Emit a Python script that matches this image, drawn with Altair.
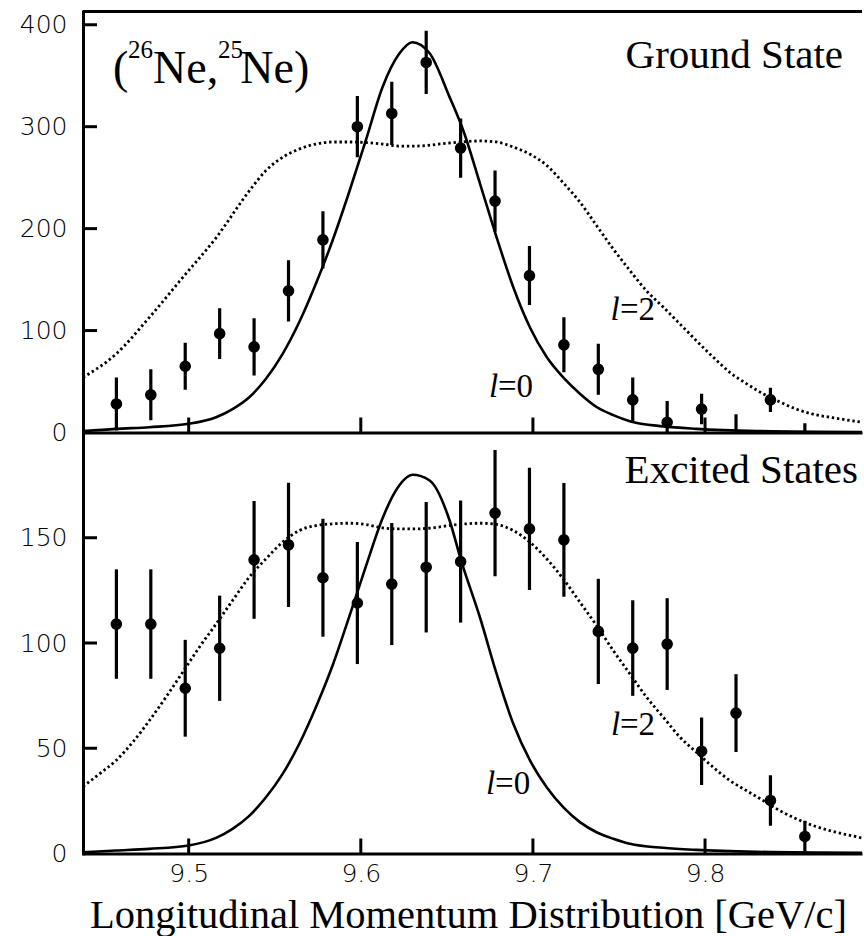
import altair as alt
import pandas as pd

# ---------------- data ----------------
# momentum bins (GeV/c) of the measured points (same in both panels)
x_pts = [9.458, 9.478, 9.498, 9.518, 9.538, 9.558, 9.578, 9.598, 9.618, 9.638,
         9.658, 9.678, 9.698, 9.718, 9.738, 9.758, 9.778, 9.798, 9.818, 9.838, 9.858]

# Ground state counts and errors (two bins sit below zero, only their bars show)
top_vals = [28, 37, 65, 97, 84, 139, 189, 300, 313, 363,
            279, 227, 154, 86, 62, 32, 10, 23, -6, 32, -6]
top_errs = [26, 25, 23, 25, 28, 30, 28, 30, 31, 31,
            29, 30, 29, 27, 25, 22, 21, 15, 24, 12, 15]

# Excited states counts and errors
bot_vals = [109, 109, 78.5, 97.5, 139.5, 146.6, 131, 119, 128, 136,
            138.7, 161.7, 154.2, 149, 105.5, 97.6, 99.5, 48.6, 66.7, 25.2, 8.1]
bot_errs = [26, 26, 23, 25, 28, 29.5, 28, 29, 29, 31,
            29, 30, 29, 27, 25, 22.7, 21.8, 16, 18.5, 12, 7.5]

# theory curves, ground state
top_l0_x = [9.4386, 9.4578, 9.4772, 9.5, 9.5159, 9.5255, 9.5352, 9.5449, 9.5546, 9.5642,
            9.5739, 9.5836, 9.5932, 9.6029, 9.6126, 9.6223, 9.630, 9.640, 9.6516, 9.6596,
            9.6693, 9.6789, 9.6886, 9.6983, 9.708, 9.7176, 9.7273, 9.737, 9.7467, 9.7563,
            9.7757, 9.795, 9.83, 9.8912]
top_l0_y = [1.3, 3.6, 5.2, 8.5, 15, 23, 34.6, 52.7, 77.2, 108.2,
            145.9, 188.4, 235.7, 286.5, 338.7, 371.5, 382.9, 372, 329, 296,
            244, 191.5, 142.5, 103, 74, 54, 38, 25, 17, 11,
            6, 3.6, 1.5, 0.5]
top_l2_x = [9.4386, 9.4578, 9.4772, 9.4965, 9.5159, 9.5352, 9.5449, 9.5546, 9.5642, 9.5739,
            9.5836, 9.5932, 9.6126, 9.6223, 9.6319, 9.6513, 9.6693, 9.6789, 9.6886, 9.6983,
            9.708, 9.7176, 9.7273, 9.737, 9.7467, 9.7563, 9.766, 9.7757, 9.7854, 9.795,
            9.8047, 9.8144, 9.824, 9.8337, 9.8434, 9.853, 9.8627, 9.8724, 9.882, 9.8912]
top_l2_y = [54, 77, 113, 152, 191, 237, 257, 270, 278, 283,
            285, 285, 283, 281, 281, 284, 286, 285, 280, 273,
            262, 245, 226, 203, 180, 159, 139, 123, 106.5, 90,
            74, 59, 48, 38, 30, 23, 18, 15, 12.4, 10]

# theory curves, excited states
bot_l0_x = [9.4386, 9.4578, 9.4772, 9.5, 9.5159, 9.5255, 9.5352, 9.5449, 9.5546, 9.5642,
            9.5739, 9.5836, 9.5932, 9.6029, 9.6126, 9.6223, 9.630, 9.640, 9.6516, 9.658,
            9.6693, 9.6789, 9.6886, 9.6983, 9.708, 9.7176, 9.7273, 9.737, 9.7467, 9.7563,
            9.7757, 9.795, 9.83, 9.8912]
bot_l0_y = [0.6, 1.4, 2.2, 3.8, 7.4, 11.7, 17.9, 26.7, 37.8, 52,
            69.5, 89.3, 112.3, 136.3, 159.2, 174.8, 179.9, 177.2, 158.2, 140,
            112, 85.4, 61.6, 44.2, 31.5, 22, 14.9, 10.1, 7, 4.6,
            2.7, 1.7, 0.8, 0.3]
bot_l2_x = [9.4386, 9.4481, 9.4578, 9.4675, 9.4772, 9.4868, 9.4965, 9.5062, 9.5159, 9.5255,
            9.5352, 9.5449, 9.5546, 9.5642, 9.5739, 9.5836, 9.5932, 9.6029, 9.6126, 9.6223,
            9.6319, 9.6416, 9.6513, 9.661, 9.6693, 9.6789, 9.6886, 9.6983, 9.708, 9.7176,
            9.7273, 9.737, 9.7467, 9.7563, 9.766, 9.7757, 9.7854, 9.795, 9.8047, 9.8144,
            9.824, 9.8337, 9.8434, 9.853, 9.8627, 9.8724, 9.882, 9.8912]
bot_l2_y = [31.8, 37.8, 44.2, 52.9, 63.2, 74.3, 86.1, 98, 109, 120.2,
            131.3, 140, 147.9, 153.4, 155.8, 156.6, 156.9, 156.3, 154.7, 154.2,
            154.2, 154.7, 155.8, 156.6, 156.9, 156.3, 153.4, 147.9, 140, 130.5,
            119.4, 108.3, 96.4, 85.4, 74.3, 64.8, 55.3, 48.1, 41, 34.7,
            29.9, 25.2, 20.4, 16.5, 13.3, 10.9, 9, 7.4]

# axis ticks / labels
x_ticks = [9.5, 9.6, 9.7, 9.8]
y_labels_top = [0, 100, 200, 300, 400]
y_labels_bot = [0, 50, 100, 150]
y_ticks_top = [100, 200, 300, 400]
y_ticks_bot = [50, 100, 150]
x_title = "Longitudinal Momentum Distribution [GeV/c]"

# text annotations
reaction_parts = ["(", "Ne,", "Ne)"]
reaction_sups = ["26", "25"]
panel_titles = ["Ground State", "Excited States"]
l_texts = ["=0", "=2"]

# ---------------- styling / layout ----------------
X_MIN, X_MAX = 9.4386, 9.8912
W, H = 779, 421
SERIF = "Liberation Serif"
SANS = "DejaVu Sans"
TICK = 15

xscale = alt.Scale(domain=[X_MIN, X_MAX], nice=False, zero=False)


def yaxis(values):
    return alt.Axis(values=values, ticks=False, tickSize=0, labelPadding=16,
                    labelFont=SANS, labelFontSize=25, labelFontWeight=200,
                    labelColor="black",
                    labelFlush=False, labelOverlap=False,
                    domainColor="black", domainWidth=3, domainCap="square",
                    grid=False, title=None)


xaxis_top = alt.Axis(labels=False, ticks=False, tickSize=0, domainColor="black",
                     domainWidth=3, grid=False, title=None)
xaxis_bot = alt.Axis(values=x_ticks, format=".1f", ticks=False, tickSize=0,
                     labelPadding=8, labelFont=SANS, labelFontSize=25,
                     labelFontWeight=200,
                     labelColor="black", labelFlush=False, labelOverlap=False,
                     domainColor="black", domainWidth=3, grid=False,
                     title=x_title, titleFont=SERIF, titleFontSize=40.5,
                     titleFontWeight="normal", titleColor="black", titlePadding=9,
                     titleX=385)


def panel(vals, errs, l0x, l0y, l2x, l2y, ydom, ylabels, yticks, xaxis,
          title_txt, title_pos, l_pos, extra=None):
    ys = alt.Scale(domain=ydom, nice=False, zero=False)
    ya = yaxis(ylabels)

    def X(f):
        return alt.X(f"{f}:Q", scale=xscale, axis=xaxis)

    def Y(f):
        return alt.Y(f"{f}:Q", scale=ys, axis=ya)

    pts = pd.DataFrame({"x": x_pts, "v": vals, "e": errs})
    pts["lo"] = pts["v"] - pts["e"]
    pts["hi"] = pts["v"] + pts["e"]

    l0 = alt.Chart(pd.DataFrame({"x": l0x, "y": l0y})).mark_line(
        color="black", strokeWidth=2.6, interpolate="monotone", clip=True
    ).encode(x=X("x"), y=Y("y"))
    l2 = alt.Chart(pd.DataFrame({"x": l2x, "y": l2y})).mark_line(
        color="black", strokeWidth=2.8, strokeDash=[2.4, 2.8], interpolate="monotone",
        clip=True
    ).encode(x=X("x"), y=Y("y"))
    bars = alt.Chart(pts).mark_rule(color="black", strokeWidth=3.2, clip=True).encode(
        x=X("x"), y=Y("lo"), y2="hi")
    dots = alt.Chart(pts).mark_circle(color="black", size=135, opacity=1, clip=True).encode(
        x=X("x"), y=Y("v"))

    xt = alt.Chart(pd.DataFrame({"t": x_ticks})).mark_rule(color="black", strokeWidth=3).encode(
        x=X("t"), y=alt.value(H), y2=alt.value(H - TICK))
    yt = alt.Chart(pd.DataFrame({"t": yticks})).mark_rule(color="black", strokeWidth=3).encode(
        y=Y("t"), x=alt.value(0), x2=alt.value(14))

    ttl = alt.Chart(pd.DataFrame({"x": [title_pos[0]], "y": [title_pos[1]], "t": [title_txt]})).mark_text(
        font=SERIF, fontSize=41, align="right", baseline="alphabetic", color="black"
    ).encode(x=X("x"), y=Y("y"), text="t:N")

    ldf = pd.DataFrame({"x": [p[0] for p in l_pos], "y": [p[1] for p in l_pos],
                        "t": ["l", "l"]})
    edf = pd.DataFrame({"x": [p[2] for p in l_pos], "y": [p[1] for p in l_pos],
                        "t": l_texts})
    l_it = alt.Chart(ldf).mark_text(font=SERIF, fontSize=33, fontStyle="italic",
                                    align="left", baseline="alphabetic", color="black").encode(
        x=X("x"), y=Y("y"), text="t:N")
    l_eq = alt.Chart(edf).mark_text(font=SERIF, fontSize=33, align="left",
                                    baseline="alphabetic", color="black").encode(
        x=X("x"), y=Y("y"), text="t:N")

    layers = [l2, l0, bars, dots, xt, yt, ttl, l_it, l_eq]
    if extra is not None:
        layers += extra(X, Y)
    return alt.layer(*layers).properties(width=W, height=H)


def top_extra(X, Y):
    border = alt.Chart(pd.DataFrame({"a": [0]})).mark_rule(color="black", strokeWidth=3).encode(
        x=alt.value(0), x2=alt.value(W), y=alt.value(0))
    big = alt.Chart(pd.DataFrame({"x": [9.4560, 9.4793, 9.5300], "y": [343.3] * 3,
                                  "t": reaction_parts})).mark_text(
        font=SERIF, fontSize=46, align="left", baseline="alphabetic", color="black"
    ).encode(x=X("x"), y=Y("y"), text="t:N")
    sup = alt.Chart(pd.DataFrame({"x": [9.4647, 9.5170], "y": [367] * 2,
                                  "t": reaction_sups})).mark_text(
        font=SERIF, fontSize=25, align="left", baseline="alphabetic", color="black"
    ).encode(x=X("x"), y=Y("y"), text="t:N")
    return [border, big, sup]


top = panel(top_vals, top_errs, top_l0_x, top_l0_y, top_l2_x, top_l2_y,
            [0, 413], y_labels_top, y_ticks_top, xaxis_top,
            panel_titles[0], (9.8802, 358),
            [(9.6745, 34.6, 9.6797), (9.7451, 110.5, 9.7506)], extra=top_extra)

bottom = panel(bot_vals, bot_errs, bot_l0_x, bot_l0_y, bot_l2_x, bot_l2_y,
               [0, 200], y_labels_bot, y_ticks_bot, xaxis_bot,
               panel_titles[1], (9.8889, 175.8),
               [(9.6727, 28.4, 9.6780), (9.7454, 56.1, 9.7506)])

chart = alt.vconcat(top, bottom, spacing=0, bounds="flush").properties(
    padding={"left": 19, "top": 9.5, "right": 0, "bottom": 0}
).configure(background="white").configure_view(stroke=None)

chart.save("out.html", embed_options={"renderer": "svg", "actions": False})
